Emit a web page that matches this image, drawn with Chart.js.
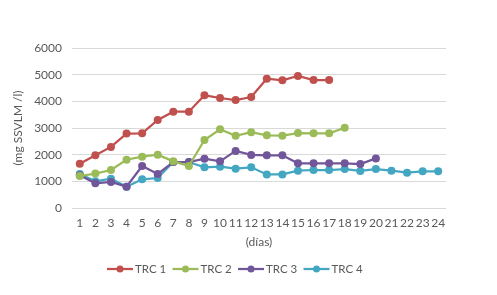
<!DOCTYPE html>
<html>
<head>
<meta charset="utf-8">
<script src="https://cdn.jsdelivr.net/npm/chart.js@4"></script>
<style>
  html, body { margin: 0; padding: 0; background: #fff; }
  #wrap { width: 497px; height: 295px; }
</style>
</head>
<body>
<div id="wrap"><canvas id="chart" width="497" height="295"></canvas></div>
<script>
const days = ["1","2","3","4","5","6","7","8","9","10","11","12","13","14","15","16","17","18","19","20","21","22","23","24"];

const trc1 = [1660, 1975, 2290, 2790, 2800, 3300, 3610, 3610, 4225, 4125, 4050, 4160, 4850, 4790, 4950, 4800, 4800];
const trc2 = [1200, 1290, 1425, 1810, 1925, 2000, 1750, 1575, 2550, 2950, 2710, 2840, 2725, 2710, 2810, 2800, 2800, 3010];
const trc3 = [1225, 925, 975, 800, 1575, 1275, 1725, 1725, 1850, 1750, 2140, 1990, 1975, 1975, 1675, 1675, 1675, 1675, 1650, 1860];
const trc4 = [1275, 1000, 1100, 800, 1075, 1125, 1725, 1725, 1525, 1550, 1475, 1525, 1260, 1260, 1400, 1425, 1425, 1460, 1390, 1460, 1400, 1325, 1375, 1375];

const seriesNames = ["TRC 1", "TRC 2", "TRC 3", "TRC 4"];
const colors = ["#C0504D", "#9BBB59", "#72569A", "#43A7C2"];

const FONT = "Lato, 'Open Sans', sans-serif";
const TEXT = "#595959";

function makeSet(label, data, color) {
  return {
    label,
    data,
    borderColor: color,
    backgroundColor: color,
    borderWidth: 2.25,
    pointRadius: 4,
    pointHoverRadius: 4,
    pointBorderWidth: 0,
    tension: 0
  };
}

// legend drawn by hand: short line with a marker in the middle, then the name
const lineLegend = {
  id: "lineLegend",
  afterDraw(chart) {
    const ctx = chart.ctx;
    const y = 269;
    let x = 107;
    ctx.save();
    ctx.font = "11.5px " + FONT;
    ctx.textBaseline = "middle";
    chart.data.datasets.forEach(ds => {
      ctx.strokeStyle = ds.borderColor;
      ctx.fillStyle = ds.borderColor;
      ctx.lineWidth = 2.25;
      ctx.beginPath();
      ctx.moveTo(x, y);
      ctx.lineTo(x + 26, y);
      ctx.stroke();
      ctx.beginPath();
      ctx.arc(x + 13, y, 3.5, 0, Math.PI * 2);
      ctx.fill();
      ctx.fillStyle = TEXT;
      ctx.fillText(ds.label, x + 28, y + 0.5);
      x += 65.5;
    });
    ctx.restore();
  }
};

const ctx = document.getElementById("chart").getContext("2d");

new Chart(ctx, {
  type: "line",
  data: {
    labels: days,
    datasets: [
      makeSet(seriesNames[0], trc1, colors[0]),
      makeSet(seriesNames[1], trc2, colors[1]),
      makeSet(seriesNames[2], trc3, colors[2]),
      makeSet(seriesNames[3], trc4, colors[3])
    ]
  },
  options: {
    responsive: false,
    animation: false,
    layout: { padding: { top: 48, right: 51, bottom: 46, left: 0 } },
    plugins: {
      legend: { display: false },
      tooltip: { enabled: false }
    },
    scales: {
      x: {
        offset: true,
        grid: { display: false, drawTicks: false },
        border: { display: false },
        ticks: { color: TEXT, font: { family: FONT, size: 12 }, padding: 8, maxRotation: 0, autoSkip: false },
        title: { display: true, text: "(días)", color: TEXT, font: { family: FONT, size: 12 }, padding: { top: 0, bottom: 0 } },
        afterFit(scale) { scale.height = 41; }
      },
      y: {
        min: 0,
        max: 6000,
        ticks: {
          stepSize: 1000,
          color: TEXT,
          font: { family: FONT, size: 12 },
          padding: 10,
          callback: v => String(v)
        },
        grid: { color: "#D9D9D9", lineWidth: 1, drawTicks: false },
        border: { display: false },
        title: { display: true, text: "(mg SSVLM /l)", color: TEXT, font: { family: FONT, size: 12 }, padding: { top: 11, bottom: 0 } },
        afterFit(scale) { scale.width = 72; }
      }
    }
  },
  plugins: [lineLegend]
});
</script>
</body>
</html>
